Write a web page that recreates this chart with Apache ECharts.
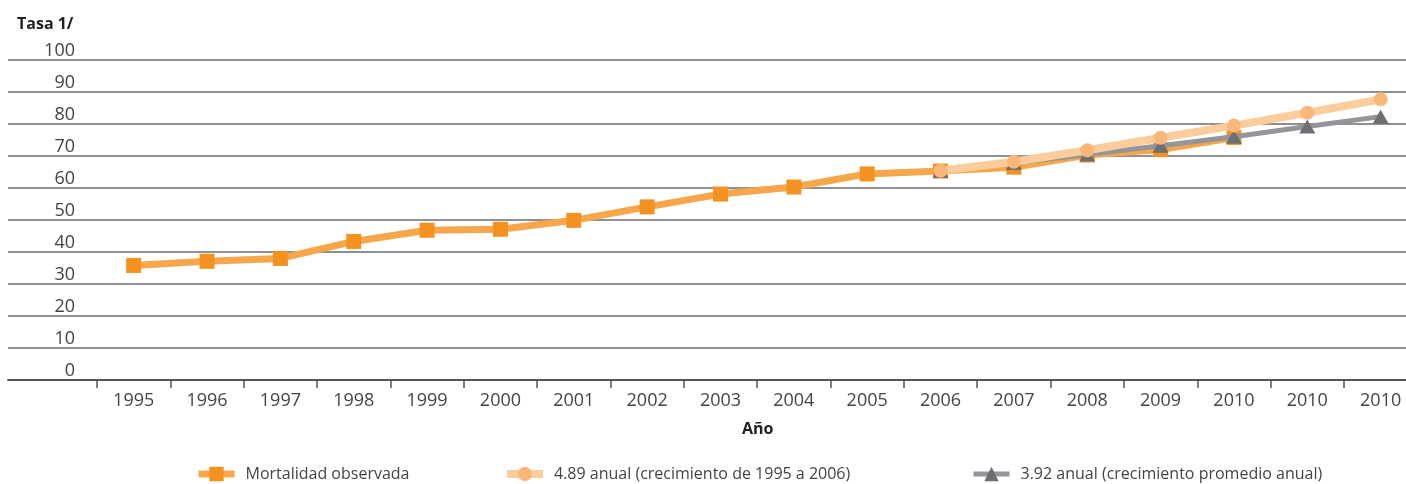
<!DOCTYPE html>
<html>
<head>
<meta charset="utf-8">
<script src="https://cdn.jsdelivr.net/npm/echarts@6/dist/echarts.min.js"></script>
<style>
  html, body { margin: 0; padding: 0; background: #fff; }
  #chart { width: 1406px; height: 484px; }
</style>
</head>
<body>
<div id="chart"></div>
<script>
// Category labels along the horizontal axis
const years = ['1995','1996','1997','1998','1999','2000','2001','2002','2003','2004','2005','2006','2007','2008','2009','2010','2010','2010'];
// Observed mortality rate, 1995–2010
const observed = [35.8, 37.1, 38.0, 43.3, 46.8, 47.1, 49.9, 54.1, 58.1, 60.3, 64.4, 65.3, 66.5, 70.3, 72.0, 75.8];
// Projection at 4.89 annual growth, starting at 2006
const growth489 = [65.4, 68.2, 71.8, 75.7, 79.5, 83.5, 87.7];
// Projection at 3.92 annual growth, starting at 2006
const growth392 = [65.3, 67.8, 70.5, 73.2, 76.0, 79.2, 82.3];
const projStart = 11;
const yTicks = [0, 10, 20, 30, 40, 50, 60, 70, 80, 90, 100];

const names = ['Mortalidad observada', '4.89 anual (crecimiento de 1995 a 2006)', '3.92 anual (crecimiento promedio anual)'];

function pad(values, start) {
  const out = years.map(() => null);
  values.forEach((v, i) => { out[start + i] = v; });
  return out;
}

const font = '"Open Sans", "Noto Sans", sans-serif';
const chart = echarts.init(document.getElementById('chart'), null, { renderer: 'canvas' });

const legendBase = {
  top: 461,
  itemWidth: 36,
  itemHeight: 18,
  lineStyle: { width: 'inherit' },
  textStyle: { fontFamily: font, fontSize: 16, color: '#444', padding: [0, 0, 0, 6] }
};

chart.setOption({
  animation: false,
  title: [
    { text: 'Tasa 1/', left: 12, top: 11, textStyle: { fontFamily: font, fontSize: 16, fontWeight: 'bold', color: '#222' } },
    { text: 'Año', left: 737, top: 416, textStyle: { fontFamily: font, fontSize: 16, fontWeight: 'bold', color: '#222' } }
  ],
  legend: [
    Object.assign({ data: [names[0]], left: 190 }, legendBase),
    Object.assign({ data: [names[1]], left: 498 }, legendBase),
    Object.assign({ data: [names[2]], left: 966 }, legendBase)
  ],
  grid: [
    { left: 8, right: 0, top: 60, bottom: 104, outerBoundsMode: 'none' },
    { left: 97, width: 1320.3, top: 60, bottom: 104, outerBoundsMode: 'none' }
  ],
  xAxis: [
    {
      gridIndex: 0, type: 'value', min: 0, max: 1,
      axisLine: { show: true, lineStyle: { color: '#555', width: 2 } },
      axisTick: { show: false }, axisLabel: { show: false }, splitLine: { show: false }
    },
    {
      gridIndex: 1, type: 'category', data: years, boundaryGap: true,
      axisLine: { show: false },
      axisTick: { show: true, alignWithLabel: false, length: 8, lineStyle: { color: '#555', width: 1.5 } },
      axisLabel: {
        interval: 0, margin: 12, fontFamily: font, fontSize: 18, color: '#444',
        formatter: (v, i) => i === years.length - 1 ? '{hi|' + v + '}' : v,
        rich: { hi: { fontFamily: font, fontSize: 18, color: '#444', padding: [0, 0, 6, 0] } }
      },
      splitLine: { show: false }
    }
  ],
  yAxis: [
    {
      gridIndex: 0, type: 'value', min: 0, max: 100, interval: 10,
      axisLine: { show: false }, axisTick: { show: false },
      axisLabel: {
        margin: -67, align: 'right', verticalAlign: 'bottom', padding: [0, 0, 0, 0],
        fontFamily: font, fontSize: 18, color: '#444',
        formatter: v => yTicks.includes(v) ? String(v) : ''
      },
      splitLine: { show: true, lineStyle: { color: '#6b6b6b', width: 1.5 } }
    },
    {
      gridIndex: 1, type: 'value', min: 0, max: 100, interval: 10,
      axisLine: { show: false }, axisTick: { show: false }, axisLabel: { show: false }, splitLine: { show: false }
    }
  ],
  series: [
    {
      name: names[0], type: 'line', xAxisIndex: 1, yAxisIndex: 1,
      data: pad(observed, 0),
      symbol: 'rect', symbolSize: 15,
      itemStyle: { color: '#F39221' },
      lineStyle: { color: '#F6A64B', width: 7 },
      z: 2
    },
    {
      name: names[2], type: 'line', xAxisIndex: 1, yAxisIndex: 1,
      data: pad(growth392, projStart),
      symbol: 'triangle', symbolSize: [16, 14],
      itemStyle: { color: '#6D6E71' },
      lineStyle: { color: '#939598', width: 5 },
      z: 3
    },
    {
      name: names[1], type: 'line', xAxisIndex: 1, yAxisIndex: 1,
      data: pad(growth489, projStart),
      symbol: 'circle', symbolSize: 14,
      itemStyle: { color: '#F9B87A' },
      lineStyle: { color: '#FBCD9D', width: 8 },
      z: 4
    }
  ]
});
</script>
</body>
</html>
